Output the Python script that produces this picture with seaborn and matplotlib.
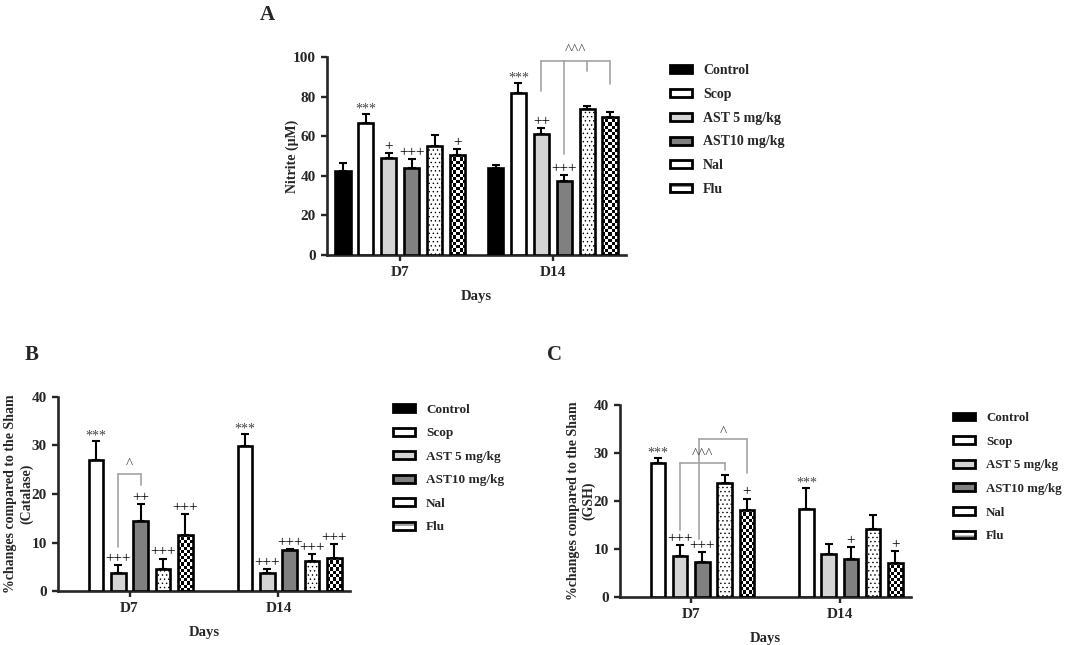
import numpy as np
import pandas as pd
import seaborn as sns
import matplotlib.pyplot as plt
from matplotlib.patches import Patch

# data
days = ["D7", "D14"]
groups = ["Control", "Scop", "AST 5 mg/kg", "AST10 mg/kg", "Nal", "Flu"]

# A: nitrite (uM), mean and top of error bar, per group, [D7, D14]
nitrite_mean = {"Control": [42.6, 44.0], "Scop": [66.7, 81.8], "AST 5 mg/kg": [49.0, 61.3],
                "AST10 mg/kg": [44.1, 37.5], "Nal": [55.2, 73.9], "Flu": [50.7, 69.7]}
nitrite_top = {"Control": [46.5, 45.3], "Scop": [71.2, 86.9], "AST 5 mg/kg": [51.5, 64.1],
               "AST10 mg/kg": [48.5, 40.2], "Nal": [60.6, 75.1], "Flu": [53.5, 72.0]}
nitrite_sig = {"Scop": ["***", "***"], "AST 5 mg/kg": ["+", "++"], "AST10 mg/kg": ["+++", "+++"],
               "Flu": ["+", ""]}

# B: catalase % change vs sham
cat_mean = {"Control": [0, 0], "Scop": [27.1, 29.9], "AST 5 mg/kg": [3.8, 3.7],
            "AST10 mg/kg": [14.5, 8.4], "Nal": [4.6, 6.2], "Flu": [11.6, 6.9]}
cat_top = {"Control": [0, 0], "Scop": [30.9, 32.4], "AST 5 mg/kg": [5.4, 4.5],
           "AST10 mg/kg": [18.0, 8.7], "Nal": [6.7, 7.6], "Flu": [15.8, 9.6]}
cat_sig = {"Scop": ["***", "***"], "AST 5 mg/kg": ["+++", "+++"], "AST10 mg/kg": ["++", "+++"],
           "Nal": ["+++", "+++"], "Flu": ["+++", "+++"]}

# C: GSH % change vs sham
gsh_mean = {"Control": [0, 0], "Scop": [28.0, 18.4], "AST 5 mg/kg": [8.6, 9.0],
            "AST10 mg/kg": [7.3, 8.0], "Nal": [23.8, 14.1], "Flu": [18.2, 7.1]}
gsh_top = {"Control": [0, 0], "Scop": [28.9, 22.7], "AST 5 mg/kg": [10.9, 11.1],
           "AST10 mg/kg": [9.3, 10.4], "Nal": [25.4, 17.0], "Flu": [20.5, 9.5]}
gsh_sig = {"Scop": ["***", "***"], "AST 5 mg/kg": ["+++", ""], "AST10 mg/kg": ["+++", "+"],
           "Flu": ["+", "+"]}

colors = {"Control": "black", "Scop": "white", "AST 5 mg/kg": "#d4d4d4",
          "AST10 mg/kg": "#808080", "Nal": "white", "Flu": "white"}

sns.set_style("ticks")
plt.rcParams['font.family'] = ['Liberation Serif', 'DejaVu Serif']
plt.rcParams['hatch.linewidth'] = 0.5
plt.rcParams['hatch.color'] = 'black'

GRAY = '#a3a3a3'


def make_df(means):
    rows = []
    for g in groups:
        for i, d in enumerate(days):
            rows.append({"day": d, "group": g, "value": means[g][i]})
    return pd.DataFrame(rows)


def draw_panel(ax, means, tops, sigs, ymax, ylabel, label_x):
    df = make_df(means)
    sns.barplot(data=df, x="day", y="value", hue="group", order=days, hue_order=groups,
                palette=colors, saturation=1, width=0.9, gap=0.34, edgecolor='black',
                linewidth=1.9, errorbar=None, legend=False, ax=ax)
    ax.set_xlim(-0.48, 1.48)
    ax.set_ylim(0, ymax)
    centers = {}
    for gi, g in enumerate(groups):
        cont = ax.containers[gi]
        for di, bar in enumerate(cont):
            xc = bar.get_x() + bar.get_width() / 2
            centers[(g, di)] = xc
            m = means[g][di]
            if m == 0:
                bar.set_visible(False)
                continue
            bar.set_zorder(3)
            ax.errorbar([xc], [m], yerr=[[0], [tops[g][di] - m]], fmt='none', ecolor='black',
                        elinewidth=1.5, capsize=3.2, capthick=1.5, zorder=2)
            s = sigs.get(g, ["", ""])[di]
            if s:
                star = s.startswith('*')
                ax.annotate(s, (xc, tops[g][di]), xytext=(0, -1 if star else 0),
                            textcoords='offset points', ha='center', va='bottom',
                            fontsize=10 if star else 11, color='#444444' if star else 'black',
                            annotation_clip=False)
            if g == "Nal":
                bar.set_hatch('....')
            if g == "Flu":
                bar.set_facecolor('none')
    # checkerboard texture for Flu bars
    ax.figure.canvas.draw()
    for bar in ax.containers[groups.index("Flu")]:
        x0, w, h = bar.get_x(), bar.get_width(), bar.get_height()
        p0 = ax.transData.transform((x0, 0))
        p1 = ax.transData.transform((x0 + w, h))
        nx = max(1, int(round((p1[0] - p0[0]) / 3.2)))
        ny = max(1, int(round((p1[1] - p0[1]) / 3.2)))
        chk = (np.add.outer(np.arange(ny), np.arange(nx)) % 2).astype(float)
        im = ax.imshow(chk, cmap='gray', vmin=0, vmax=1, extent=(x0, x0 + w, 0, h),
                       aspect='auto', interpolation='nearest', zorder=2.5)
        im.set_clip_path(bar)
    ax.set_xlim(-0.48, 1.48)
    ax.set_ylim(0, ymax)
    sns.despine(ax=ax)
    for sp in ['left', 'bottom']:
        ax.spines[sp].set_linewidth(1.9)
    ax.tick_params(width=1.7, length=4.5, labelsize=11)
    for lab in ax.get_xticklabels() + ax.get_yticklabels():
        lab.set_fontweight('bold')
    ax.set_xlabel("Days", labelpad=8, fontweight='bold', fontsize=10.5)
    ax.set_ylabel(ylabel, fontweight='bold', fontsize=10)
    ax.yaxis.set_label_coords(label_x, 0.5)
    return centers


def bracket(ax, xs, drops, ytop, label, ylab):
    ax.plot([xs[0], xs[-1]], [ytop, ytop], color=GRAY, lw=1.2, clip_on=False, zorder=1)
    for x, yb in zip(xs, drops):
        ax.plot([x, x], [ytop, yb], color=GRAY, lw=1.2, clip_on=False, zorder=1)
    ax.text((xs[0] + xs[-1]) / 2, ylab, label, ha='center', va='center', fontsize=11,
            color='#444444', clip_on=False)


def legend(ax, fig, x, y, size, spacing):
    px = size * 100 / 72
    handles = []
    for g in groups:
        if g == "Flu":
            handles.append(Patch(facecolor='white', edgecolor='black', hatch='---', lw=2))
        else:
            handles.append(Patch(facecolor=colors[g], edgecolor='black', lw=2))
    ax.legend(handles, groups, loc='upper left', bbox_to_anchor=(x, y),
              bbox_transform=fig.transFigure, frameon=False, borderpad=0, borderaxespad=0,
              handlelength=22 / px, handleheight=7 / px, handletextpad=11 / px,
              labelspacing=spacing, prop={'weight': 'bold', 'size': size})


fig = plt.figure(figsize=(10.65, 6.45), dpi=100)
W, H = 1065, 645


def axes_px(l, t, r, b):
    return fig.add_axes([l / W, 1 - b / H, (r - l) / W, (b - t) / H])


axA = axes_px(327, 57, 626, 255)
cA = draw_panel(axA, nitrite_mean, nitrite_top, nitrite_sig, 100, "Nitrite (μM)", -0.095)
axA.set_yticks([0, 20, 40, 60, 80, 100])
bracket(axA, [cA[("AST 5 mg/kg", 1)], cA[("AST10 mg/kg", 1)], cA[("Nal", 1)], cA[("Flu", 1)]],
        [83, 51, 92.8, 86.4], 98.1, "^^^", 103.5)
legend(axA, fig, 670 / W, 1 - 64 / H, 10, 0.78)

axB = axes_px(58, 397, 350, 591)
cB = draw_panel(axB, cat_mean, cat_top, cat_sig, 40,
                "%changes compared to the Sham\n(Catalase)", -0.086)
axB.set_yticks([0, 10, 20, 30, 40])
bracket(axB, [cB[("AST 5 mg/kg", 0)], cB[("AST10 mg/kg", 0)]], [9.1, 21.8], 24.2, "^", 26.0)
legend(axB, fig, 393 / W, 1 - 404 / H, 9.5, 0.87)

axC = axes_px(620, 405, 911, 597)
cC = draw_panel(axC, gsh_mean, gsh_top, gsh_sig, 40,
                "%changes compared to the Sham\n(GSH)", -0.085)
axC.set_yticks([0, 10, 20, 30, 40])
bracket(axC, [cC[("AST 5 mg/kg", 0)], cC[("Nal", 0)]], [13.9, 26.4], 28.0, "^^^", 29.6)
bracket(axC, [cC[("AST10 mg/kg", 0)] - 0.02, cC[("Flu", 0)]], [12.0, 25.9], 32.9, "^", 34.2)
legend(axC, fig, 953 / W, 1 - 412 / H, 9.3, 0.9)

for lbl, x, y in [("A", 260, 20), ("B", 25, 360), ("C", 547, 360)]:
    fig.text(x / W, 1 - y / H, lbl, fontsize=15, fontweight='bold', va='baseline', ha='left')

plt.savefig('out.png', dpi=100)
